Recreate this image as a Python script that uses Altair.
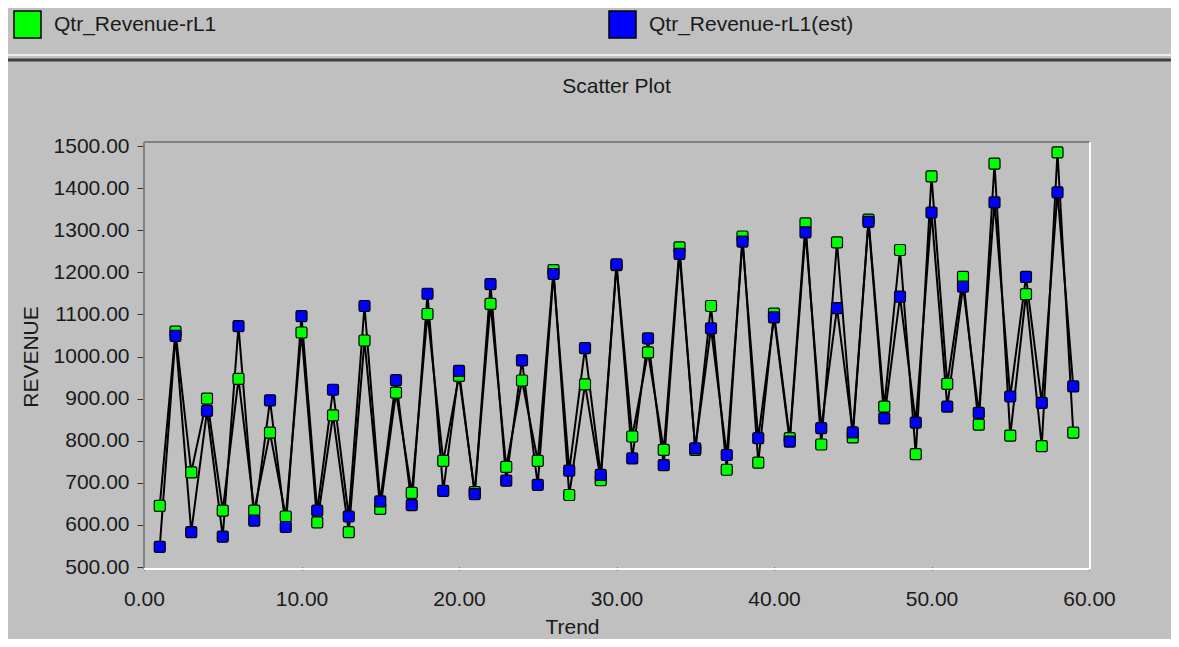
import altair as alt
import pandas as pd

# ---- data ----
trend = list(range(1, 60))
actual = [645, 1059, 725, 900, 634, 947, 634, 819, 620, 1057,
          606, 860, 583, 1038, 638, 914, 676, 1101, 752, 954,
          678, 1125, 738, 943, 752, 1205, 671, 934, 706, 1217,
          810, 1010, 778, 1259, 778, 1120, 731, 1285, 748, 1102,
          806, 1316, 791, 1271, 808, 1325, 881, 1253, 768, 1428,
          935, 1189, 838, 1458, 812, 1148, 787, 1485, 819]
estimate = [548, 1049, 583, 871, 572, 1072, 610, 896, 595, 1096,
            634, 921, 620, 1120, 656, 944, 647, 1149, 681, 966,
            673, 1172, 705, 991, 695, 1196, 729, 1020, 719, 1219,
            758, 1043, 742, 1244, 782, 1067, 766, 1273, 806, 1093,
            798, 1295, 830, 1115, 820, 1320, 853, 1142, 843, 1342,
            881, 1166, 866, 1366, 905, 1189, 890, 1390, 929]
series_names = ["Qtr_Revenue-rL1", "Qtr_Revenue-rL1(est)"]
series_colors = ["#00ff00", "#0000ff"]
x_ticks = [0, 10, 20, 30, 40, 50, 60]
y_ticks = [500, 600, 700, 800, 900, 1000, 1100, 1200, 1300, 1400, 1500]
chart_title = "Scatter Plot"

rows = []
for k, vals in enumerate([actual, estimate]):
    for t, v in zip(trend, vals):
        rows.append({"Trend": t, "REVENUE": v, "series": series_names[k], "z": k})
df = pd.DataFrame(rows)
one = pd.DataFrame({"d": [0]})

FONT = "Liberation Sans"
TXT = "#1a1a1a"
W, H = 945, 421

ROUNDED = ("M-0.7,-1H0.7Q1,-1 1,-0.7V0.7Q1,1 0.7,1H-0.7Q-1,1 -1,0.7"
           "V-0.7Q-1,-1 -0.7,-1Z")

x_enc = alt.X(
    "Trend:Q",
    scale=alt.Scale(domain=[0, 60], nice=False, zero=False),
    axis=alt.Axis(values=x_ticks, format=".2f", title="Trend", grid=False,
                  domain=False, tickSize=3, tickColor="#202020", labelPadding=18.5,
                  labelFlush=False, labelFont=FONT, labelFontSize=21, labelColor=TXT,
                  titleFont=FONT, titleFontSize=21, titleFontWeight="normal",
                  titleColor=TXT, titleX=428, titleY=66, titleBaseline="alphabetic",
                  titleAlign="center"),
)
y_enc = alt.Y(
    "REVENUE:Q",
    scale=alt.Scale(domain=[500, 1500], nice=False, zero=False),
    axis=alt.Axis(values=y_ticks, format=".2f", title="REVENUE", grid=False,
                  domain=False, tickSize=7, tickColor="#303030", labelPadding=8,
                  labelFont=FONT, labelFontSize=21, labelColor=TXT,
                  titleFont=FONT, titleFontSize=21, titleFontWeight="normal",
                  titleColor=TXT, titleAngle=-90, titleX=-107, titleY=H / 2,
                  titleBaseline="alphabetic", titleAlign="center"),
)

base = alt.Chart(df)

lines = base.mark_line(color="black", strokeWidth=2).encode(
    x=x_enc, y=y_enc, detail="series:N", order="Trend:Q"
)

points = base.mark_point(
    filled=True, shape=ROUNDED, size=121, stroke="black", strokeWidth=1.2, opacity=1
).encode(
    x=x_enc,
    y=y_enc,
    color=alt.Color(
        "series:N",
        scale=alt.Scale(domain=series_names, range=series_colors),
        legend=alt.Legend(
            title=None, orient="none", legendX=-131, legendY=-136,
            direction="horizontal", columns=2, columnPadding=389, padding=0,
            symbolType="square", symbolSize=729, symbolStrokeColor="black",
            symbolStrokeWidth=1.5, symbolOpacity=1, labelFont=FONT,
            labelFontSize=21, labelColor=TXT, labelOffset=12, labelLimit=400,
        ),
    ),
    order=alt.Order("z:Q"),
)

def rule(color, width, **enc):
    return alt.Chart(one).mark_rule(color=color, strokeWidth=width).encode(**enc)

frame = [
    rule("#808080", 2, x=alt.value(0), x2=alt.value(946), y=alt.value(-4)),
    rule("#808080", 2, x=alt.value(0), y=alt.value(-4), y2=alt.value(423)),
    rule("#ffffff", 2, x=alt.value(946), y=alt.value(-4), y2=alt.value(423)),
    rule("#ffffff", 2, x=alt.value(0), x2=alt.value(946), y=alt.value(423)),
    rule("#ececec", 2, x=alt.value(-136), x2=alt.value(W + 82), y=alt.value(-91)),
    rule("#404040", 3, x=alt.value(-136), x2=alt.value(W + 82), y=alt.value(-86)),
]

title = alt.Chart(one).mark_text(
    text=chart_title, font=FONT, fontSize=21, color=TXT, align="center",
    baseline="alphabetic"
).encode(x=alt.value(W / 2), y=alt.value(-53))

chart = alt.layer(*frame, title, lines, points).properties(
    width=W,
    height=H,
    padding={"left": 136, "top": 138, "right": 82, "bottom": 72},
    autosize=alt.AutoSizeParams(type="none"),
    background="#c0c0c0",
).configure_view(stroke=None)

chart.save("out.html", embed_options={"renderer": "svg", "actions": False})
